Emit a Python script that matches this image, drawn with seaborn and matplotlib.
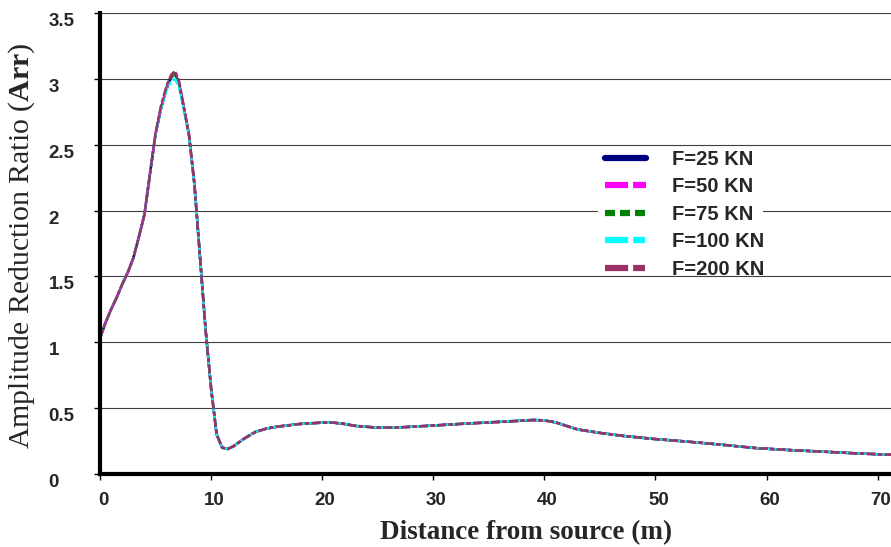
import matplotlib
matplotlib.use("Agg")
import matplotlib.pyplot as plt
import matplotlib.transforms as mtransforms
from matplotlib.patches import Rectangle
import seaborn as sns
import pandas as pd

# ---------------- data ----------------
distance = [0, 0.5, 1, 1.5, 2, 2.5, 3, 3.5, 4, 4.5, 5, 5.5, 6, 6.4, 6.75, 7.1, 7.5, 8,
            8.5, 9, 9.5, 10, 10.5, 11, 11.5, 12, 13, 14, 15, 16, 18, 20, 21, 22, 23,
            25, 27, 30, 33, 36, 38, 39, 40, 41, 42, 43, 45, 47, 50, 53, 56, 59, 62,
            65, 68, 71.2]

arr_f25 = [1.03, 1.15, 1.25, 1.34, 1.44, 1.53, 1.64, 1.80, 1.97, 2.28, 2.58, 2.78, 2.93,
           3.01, 3.04, 2.97, 2.80, 2.58, 2.20, 1.65, 1.10, 0.65, 0.30, 0.20, 0.19, 0.21,
           0.27, 0.32, 0.345, 0.36, 0.38, 0.39, 0.39, 0.38, 0.365, 0.352, 0.354, 0.368,
           0.383, 0.396, 0.405, 0.41, 0.407, 0.392, 0.365, 0.338, 0.312, 0.29, 0.265,
           0.245, 0.222, 0.197, 0.182, 0.17, 0.157, 0.146]
arr_f50 = [1.03, 1.15, 1.25, 1.34, 1.44, 1.53, 1.64, 1.80, 1.97, 2.28, 2.58, 2.78, 2.93,
           3.01, 3.04, 2.97, 2.80, 2.58, 2.20, 1.65, 1.10, 0.65, 0.30, 0.20, 0.19, 0.21,
           0.27, 0.32, 0.345, 0.36, 0.38, 0.39, 0.39, 0.38, 0.365, 0.352, 0.354, 0.368,
           0.383, 0.396, 0.405, 0.41, 0.407, 0.392, 0.365, 0.338, 0.312, 0.29, 0.265,
           0.245, 0.222, 0.197, 0.182, 0.17, 0.157, 0.146]
arr_f75 = [1.03, 1.15, 1.25, 1.34, 1.44, 1.53, 1.64, 1.80, 1.97, 2.28, 2.58, 2.78, 2.93,
           3.01, 3.04, 2.97, 2.80, 2.58, 2.20, 1.65, 1.10, 0.65, 0.30, 0.20, 0.19, 0.21,
           0.27, 0.32, 0.345, 0.36, 0.38, 0.39, 0.39, 0.38, 0.365, 0.352, 0.354, 0.368,
           0.383, 0.396, 0.405, 0.41, 0.407, 0.392, 0.365, 0.338, 0.312, 0.29, 0.265,
           0.245, 0.222, 0.197, 0.182, 0.17, 0.157, 0.146]
arr_f100 = [1.03, 1.15, 1.25, 1.34, 1.44, 1.53, 1.64, 1.80, 1.97, 2.28, 2.58, 2.78, 2.92,
            2.98, 3.00, 2.94, 2.79, 2.57, 2.19, 1.65, 1.10, 0.65, 0.30, 0.20, 0.19, 0.21,
            0.27, 0.32, 0.345, 0.36, 0.38, 0.39, 0.39, 0.38, 0.365, 0.352, 0.354, 0.368,
            0.384, 0.398, 0.407, 0.412, 0.408, 0.392, 0.365, 0.338, 0.312, 0.29, 0.265,
            0.245, 0.222, 0.197, 0.182, 0.17, 0.157, 0.146]
arr_f200 = [1.03, 1.15, 1.25, 1.34, 1.44, 1.53, 1.64, 1.80, 1.97, 2.28, 2.59, 2.80, 2.95,
            3.03, 3.06, 2.99, 2.81, 2.58, 2.20, 1.65, 1.10, 0.65, 0.30, 0.20, 0.19, 0.21,
            0.27, 0.32, 0.345, 0.36, 0.38, 0.39, 0.39, 0.38, 0.365, 0.352, 0.354, 0.368,
            0.383, 0.396, 0.405, 0.41, 0.407, 0.392, 0.365, 0.338, 0.312, 0.29, 0.265,
            0.245, 0.222, 0.197, 0.182, 0.17, 0.157, 0.146]

series_labels = ["F=25 KN", "F=50 KN", "F=75 KN", "F=100 KN", "F=200 KN"]
series_values = [arr_f25, arr_f50, arr_f75, arr_f100, arr_f200]
x_ticks = [0, 10, 20, 30, 40, 50, 60, 70]
y_ticks = [0, 0.5, 1, 1.5, 2, 2.5, 3, 3.5]
y_tick_labels = ["0", "0.5", "1", "1.5", "2", "2.5", "3", "3.5"]

rows = []
for lab, vals in zip(series_labels, series_values):
    for xv, yv in zip(distance, vals):
        rows.append({"Distance": xv, "Arr": yv, "Load": lab})
df = pd.DataFrame(rows)

# ---------------- style ----------------
sns.set_theme(style="white")
plt.rcParams["font.family"] = ["Liberation Sans", "DejaVu Sans"]
plt.rcParams["mathtext.fontset"] = "custom"
plt.rcParams["mathtext.rm"] = "Liberation Serif"
plt.rcParams["mathtext.bf"] = "Liberation Serif:bold"

palette = {"F=25 KN": "#000080", "F=50 KN": "#FF00FF", "F=75 KN": "#008000",
           "F=100 KN": "#00FFFF", "F=200 KN": "#993366"}
dashes = {"F=25 KN": "", "F=50 KN": (3.7, 0.8), "F=75 KN": (1.6, 0.8),
          "F=100 KN": (3.7, 0.8, 1.9, 0.8), "F=200 KN": (3.7, 0.8, 1.9, 0.8)}

fig = plt.figure(figsize=(8.91, 5.47), dpi=100)
ax = fig.add_axes([100 / 891, (547 - 474) / 547, 791 / 891, 461 / 547])

sns.lineplot(data=df, x="Distance", y="Arr", hue="Load", style="Load",
             hue_order=series_labels, style_order=series_labels,
             palette=palette, dashes=dashes, linewidth=1.8, ax=ax,
             legend=True, sort=False, estimator=None)

ax.set_xlim(0, 71.2)
ax.set_ylim(0, 3.5)
ax.set_xticks(x_ticks)
ax.set_yticks(y_ticks)
ax.set_yticklabels(y_tick_labels)

# grid and spines
ax.yaxis.grid(True, color="#404040", linewidth=0.8)
ax.xaxis.grid(False)
ax.set_axisbelow(True)
for s in ["top", "right"]:
    ax.spines[s].set_visible(False)
for s in ["left", "bottom"]:
    ax.spines[s].set_visible(True)
    ax.spines[s].set_color("black")
    ax.spines[s].set_linewidth(3.0)

ax.tick_params(axis="both", which="major", direction="out", length=4, width=1,
               color="black", labelsize=13.5, left=True, bottom=True)
ax.tick_params(axis="y", pad=33)
ax.tick_params(axis="x", pad=9)
for lab in ax.get_yticklabels():
    lab.set_fontweight("bold")
    lab.set_horizontalalignment("left")
    lab.set_transform(lab.get_transform() +
                      mtransforms.ScaledTranslation(0, -6.5 / 100, fig.dpi_scale_trans))
for lab in ax.get_xticklabels():
    lab.set_fontweight("bold")
    lab.set_transform(lab.get_transform() +
                      mtransforms.ScaledTranslation(3 / 100, 0, fig.dpi_scale_trans))

ax.set_xlabel("Distance from source (m)", fontsize=19.5, fontweight="bold",
              family="Liberation Serif")
ax.xaxis.set_label_coords((526 - 100) / 791, -(545 - 474) / 461)
ax.xaxis.label.set_verticalalignment("bottom")
ax.set_ylabel(r"Amplitude Reduction Ratio ($\mathbf{Arr}$)", fontsize=21.5,
              family="Liberation Serif")
ax.yaxis.set_label_coords(-(100 - 37) / 791, (474 - 246) / 461)

# white legend background (covers the grid only between the 2.5 and 1.5 lines)
ax.add_patch(Rectangle(((598 - 100) / 791, (474 - 273) / 461),
                       (763 - 598) / 791, (273 - 148) / 461,
                       transform=ax.transAxes, facecolor="white",
                       edgecolor="none", zorder=1.5))

# legend
old = ax.get_legend()
handles = old.legend_handles
labels = [t.get_text() for t in old.texts]
old.remove()
leg = ax.legend(handles, labels, loc="upper left",
                bbox_to_anchor=((601 - 100) / 791, (474 - 146) / 461),
                frameon=False, borderpad=0.2, borderaxespad=0,
                handlelength=2.05, handletextpad=1.3, labelspacing=0.42,
                prop={"family": "Liberation Sans", "weight": "bold", "size": 14.5})
for h in leg.legend_handles:
    h.set_linewidth(4.5)

fig.savefig("out.png", dpi=100)
